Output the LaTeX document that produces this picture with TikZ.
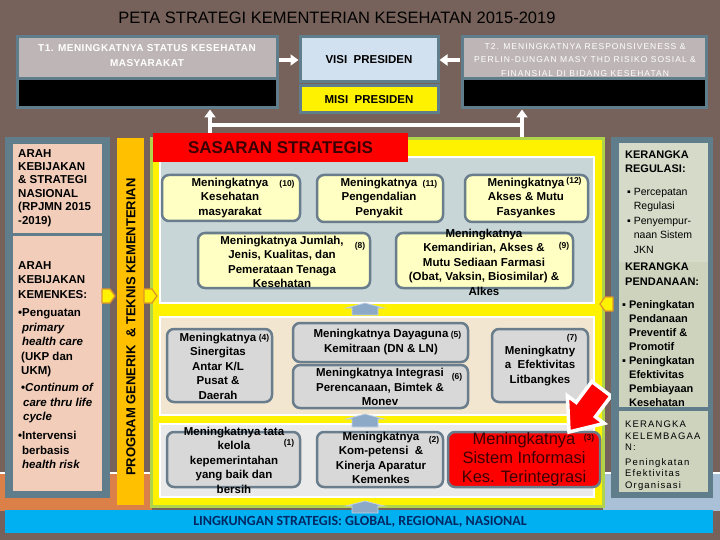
\documentclass[tikz,border=0pt]{standalone}
\usepackage{fontspec}
\setmainfont{Liberation Sans}
\newfontfamily\widefont[LetterSpace=12]{Liberation Sans}
\newfontfamily\airyfont[LetterSpace=5]{Liberation Sans}
\newfontfamily\calfont{Carlito}
\usetikzlibrary{arrows.meta}

\definecolor{bgbrown}{RGB}{118,98,90}
\definecolor{slate}{RGB}{96,125,139}
\definecolor{tgray}{RGB}{190,182,182}
\definecolor{visiblue}{RGB}{210,225,240}
\definecolor{peach}{RGB}{242,206,186}
\definecolor{progorange}{RGB}{255,192,0}
\definecolor{framegreen}{RGB}{175,212,75}
\definecolor{panelA}{RGB}{200,214,216}
\definecolor{panelB}{RGB}{242,230,208}
\definecolor{panelC}{RGB}{234,234,234}
\definecolor{goalyellow}{RGB}{255,255,196}
\definecolor{goalgray}{RGB}{216,216,216}
\definecolor{goalline}{RGB}{105,125,140}
\definecolor{sage}{RGB}{206,211,190}
\definecolor{sagelight}{RGB}{214,218,201}
\definecolor{bandorange}{RGB}{218,128,72}
\definecolor{bandsteel}{RGB}{170,192,214}
\definecolor{flowblue}{RGB}{140,170,200}
\definecolor{barblue}{RGB}{0,176,240}
\definecolor{navy}{RGB}{0,40,100}
\definecolor{darkred}{RGB}{60,0,0}
\definecolor{pointershade}{RGB}{225,150,40}

\begin{document}
\begin{tikzpicture}[x=1pt,y=-1pt,
  topbox/.style={draw=slate,line width=3pt,fill=#1,inner sep=0pt},
  goal/.style={draw=goalline,line width=2.5pt,rounded corners=7pt,fill=#1,inner sep=0pt},
  goaltext/.style={font=\fontsize{11.5}{14.5}\selectfont\bfseries,align=center,inner sep=0pt},
  goalnum/.style={font=\fontsize{8.5}{10}\selectfont\bfseries,inner sep=0pt},
  panel/.style={draw=white,line width=1.5pt,fill=#1},
  sidetext/.style={align=left,anchor=north west,inner sep=0pt},
  whitearrow/.style={white,line width=3.5pt,-{Triangle[width=11pt,length=8pt]}},
  flowarrow/.style={fill=flowblue,draw=flowblue!50!white,line width=0.8pt},
  pointer/.style={fill=yellow,draw=pointershade,line width=1.3pt,line join=round}]
\useasboundingbox (0,0) rectangle (720,540);
\fill[bgbrown] (0,0) rectangle (720,540);

\node[font=\fontsize{16.5}{18}\selectfont] (title) at (337,18)
  {PETA STRATEGI KEMENTERIAN KESEHATAN 2015-2019};

% tujuan, visi dan misi
\node[topbox=tgray,minimum width=260pt,minimum height=71pt] (t1) at (147,72.5) {};
\fill[slate] (18.5,77.5) rectangle (275.5,80);
\fill[black] (18.5,80) rectangle (275.5,106.5);
\node[font=\airyfont\fontsize{10}{15}\selectfont\bfseries,text=white,align=center] (t1txt) at (147,56)
  {T1. MENINGKATNYA STATUS KESEHATAN\\MASYARAKAT};
\node[topbox=tgray,minimum width=244pt,minimum height=71pt] (t2) at (584,72.5) {};
\fill[slate] (463.5,77.5) rectangle (704.5,80);
\fill[black] (463.5,80) rectangle (704.5,106.5);
\node[font=\widefont\fontsize{8.5}{13.5}\selectfont,text=white,align=center] (t2txt) at (585,60)
  {T2. MENINGKATNYA RESPONSIVENESS \&\\PERLIN-DUNGAN MASY THD RISIKO SOSIAL \&\\FINANSIAL DI BIDANG KESEHATAN};
\node[topbox=visiblue,minimum width=138pt,minimum height=45pt,font=\fontsize{11.5}{12}\selectfont\bfseries] (visi) at (369,59.5) {VISI\ \ PRESIDEN};
\node[topbox=yellow,minimum width=138pt,minimum height=27pt,font=\fontsize{11.5}{12}\selectfont\bfseries] (misi) at (369,99.5) {MISI\ \ PRESIDEN};

\coordinate (t1arr) at (279,60);
\coordinate (t2arr) at (460,60);
\draw[whitearrow] (t1arr) -- (visi.west |- t1arr);
\draw[whitearrow] (t2arr) -- (visi.east |- t2arr);
\coordinate (sasleft) at (210,137);
\coordinate (sasright) at (522,141);
\coordinate (busleft) at (210,125);
\coordinate (busright) at (522,125);
\draw[white,line width=3.5pt] (busleft) -- (busright);
\draw[whitearrow] (sasleft) -- (sasleft |- t1.south);
\draw[whitearrow] (sasright) -- (sasright |- t2.south);

% pita bawah
\fill[bandorange] (0,473) rectangle (152,511);
\draw[white,line width=2pt] (0,473) -- (152,473);
\fill[bandsteel] (603,473) rectangle (720,511);
\draw[white,line width=2pt] (603,473) -- (720,473);

% arah kebijakan
\fill[slate] (5,137) rectangle (110,498);
\fill[peach] (13,144) rectangle (102,233);
\fill[peach] (13,236) rectangle (102,491);
\node[sidetext,font=\fontsize{11.5}{13.4}\selectfont\bfseries] (arahnas) at (18,149)
  {ARAH\\KEBIJAKAN\\\& STRATEGI\\NASIONAL\\(RPJMN 2015\\-2019)};
\node[sidetext,font=\fontsize{11.5}{14.5}\selectfont\bfseries] (arahkes) at (18,261)
  {ARAH\\KEBIJAKAN\\KEMENKES:\\[4pt]
   {\textbullet}Penguatan\\\hspace*{4pt}{\itshape primary}\\\hspace*{4pt}{\itshape health care}\\\hspace*{3pt}(UKP dan\\\hspace*{3pt}UKM)\\[2.5pt]
   \hspace*{3pt}{\textbullet}{\itshape Continum of}\\\hspace*{5pt}{\itshape care thru life}\\\hspace*{5pt}{\itshape cycle}\\[4.5pt]
   {\textbullet}Intervensi\\\hspace*{4pt}berbasis\\\hspace*{4pt}{\itshape health risk}};

% program
\fill[progorange] (117,138) rectangle (144,505);
\node[rotate=90,font=\fontsize{13}{13}\selectfont\bfseries] (program) at (131,327)
  {PROGRAM GENERIK\ \ \& TEKNIS KEMENTERIAN};

% sasaran strategis
\draw[fill=yellow,draw=framegreen,line width=3pt] (151.5,138.5) rectangle (603,506.5);
\draw[panel=panelA] (160,157) rectangle (594,303);
\draw[panel=panelB] (160,317) rectangle (594,415);
\draw[panel=panelC] (160,424) rectangle (594,497);
\node[fill=red,inner sep=0pt,minimum width=255pt,minimum height=29pt,text=darkred,
  font=\fontsize{17}{17}\selectfont\bfseries] (sasaran) at (280.5,147.5) {SASARAN STRATEGIS};

\node[goal=goalyellow,minimum width=138pt,minimum height=46pt] (b10) at (231,198) {};
\node[goal=goalyellow,minimum width=126pt,minimum height=47pt] (b11) at (380,198.5) {};
\node[goal=goalyellow,minimum width=123pt,minimum height=47pt] (b12) at (526.5,198.5) {};
\node[goal=goalyellow,minimum width=172pt,minimum height=55pt] (b8) at (284,260.5) {};
\node[goal=goalyellow,minimum width=177pt,minimum height=55pt] (b9) at (484.5,260.5) {};
\node[goal=goalgray,minimum width=105pt,minimum height=73pt] (b4) at (219.5,365.5) {};
\node[goal=goalgray,minimum width=175pt,minimum height=39pt] (b5) at (380.5,342.5) {};
\node[goal=goalgray,minimum width=175pt,minimum height=43pt] (b6) at (380.5,386.5) {};
\node[goal=goalgray,minimum width=96pt,minimum height=73pt] (b7) at (540,365.5) {};
\node[goal=goalgray,minimum width=133pt,minimum height=55pt] (b1) at (233.5,459.5) {};
\node[goal=goalgray,minimum width=126pt,minimum height=55pt] (b2) at (380,459.5) {};
\node[goal=red,minimum width=152pt,minimum height=55pt] (b3) at (524,459.5) {};

\node[goaltext] (g10) at (230,198) {Meningkatnya\\Kesehatan\\masyarakat};
\node[goaltext] (g11) at (379,198) {Meningkatnya\\Pengendalian\\Penyakit};
\node[goaltext] (g12) at (526,198) {Meningkatnya\\Akses \& Mutu\\Fasyankes};
\node[goaltext] (g8) at (282,262) {Meningkatnya Jumlah,\\Jenis, Kualitas, dan\\Pemerataan Tenaga\\Kesehatan};
\node[goaltext] (g9) at (484,262) {Meningkatnya\\Kemandirian, Akses \&\\Mutu Sediaan Farmasi\\(Obat, Vaksin, Biosimilar) \&\\Alkes};
\node[goaltext] (g4) at (218,366) {Meningkatnya\\Sinergitas\\Antar K/L\\Pusat \&\\Daerah};
\node[goaltext] (g5) at (381,342) {Meningkatnya Dayaguna\\Kemitraan (DN \& LN)};
\node[goaltext] (g6) at (380,387) {Meningkatnya Integrasi\\Perencanaan, Bimtek \&\\Monev};
\node[goaltext] (g7) at (540,366) {Meningkatny\\a\ \ Efektivitas\\Litbangkes};
\node[goaltext] (g1) at (234,460) {Meningkatnya tata\\kelola\\kepemerintahan\\yang baik dan\\bersih};
\node[goaltext] (g2) at (381,458) {Meningkatnya\\Kom-petensi\ \ \&\\Kinerja Aparatur\\Kemenkes};
\node[goaltext,font=\fontsize{16.5}{19}\selectfont,text=darkred] (g3) at (524,459) {Meningkatnya\\Sistem Informasi\\Kes. Terintegrasi};

\node[goalnum] (n10) at (287,184) {(10)};
\node[goalnum] (n11) at (430,184) {(11)};
\node[goalnum] (n12) at (574,181) {(12)};
\node[goalnum] (n8) at (360,246) {(8)};
\node[goalnum] (n9) at (564,246) {(9)};
\node[goalnum] (n4) at (264,338) {(4)};
\node[goalnum] (n5) at (456,335) {(5)};
\node[goalnum] (n6) at (457,377) {(6)};
\node[goalnum] (n7) at (572,338) {(7)};
\node[goalnum] (n1) at (289,443) {(1)};
\node[goalnum] (n2) at (434,440) {(2)};
\node[goalnum,text=darkred] (n3) at (589,438) {(3)};

\draw[fill=red,draw=white,line width=3.5pt,line join=miter]
  (569,432) -- (604.2,423.4) -- (595.4,416.8) -- (611,396)
  -- (591.8,381.6) -- (576.2,402.4) -- (567.4,395.8) -- cycle;

% kerangka
\fill[slate] (611,137) rectangle (713,498);
\fill[sagelight] (619,143) rectangle (708,262);
\fill[sage] (619,262) rectangle (708,407);
\fill[sage] (619,411) rectangle (708,492);
\node[sidetext,font=\fontsize{11}{14}\selectfont\bfseries] (regulasi) at (625,151) {KERANGKA\\REGULASI:};
\node[sidetext,font=\fontsize{10.5}{14.5}\selectfont] (regulasiisi) at (627,188)
  {▪ Percepatan\\\phantom{▪ }Regulasi\\▪ Penyempur-\\\phantom{▪ }naan Sistem\\\phantom{▪ }JKN};
\node[sidetext,font=\fontsize{11}{14.5}\selectfont\bfseries] (pendanaan) at (625,263) {KERANGKA\\PENDANAAN:};
\node[sidetext,font=\fontsize{11}{14}\selectfont\bfseries] (pendanaanisi) at (622,300)
  {▪ Peningkatan\\\phantom{▪ }Pendanaan\\\phantom{▪ }Preventif \&\\\phantom{▪ }Promotif\\▪ Peningkatan\\\phantom{▪ }Efektivitas\\\phantom{▪ }Pembiayaan\\\phantom{▪ }Kesehatan};
\node[sidetext,font=\widefont\fontsize{9.5}{11.5}\selectfont] (kelembagaan) at (625,421)
  {KERANGKA\\KELEMBAGAA\\N:\\[3pt]Peningkatan\\Efektivitas\\Organisasi};

% lingkungan strategis
\fill[barblue] (5,510) rectangle (713,533);
\node[font=\calfont\fontsize{14}{14}\selectfont\bfseries,text=navy] (lingkungan) at (360,522)
  {LINGKUNGAN STRATEGIS: GLOBAL, REGIONAL, NASIONAL};

\foreach \tp/\bs in {303/315,414/427,501/513}
  \draw[flowarrow] (352,\bs) -- (352,\tp+5) -- (346,\tp+5) -- (365,\tp)
    -- (384,\tp+5) -- (378,\tp+5) -- (378,\bs) -- cycle;
\foreach \cx in {108,150}
  \draw[pointer] (\cx-6,289) -- (\cx+2,289) -- (\cx+7,296) -- (\cx+2,303) -- (\cx-6,303) -- cycle;
\draw[pointer] (613,297) -- (605,297) -- (600,304) -- (605,311) -- (613,311) -- cycle;
\end{tikzpicture}
\end{document}
